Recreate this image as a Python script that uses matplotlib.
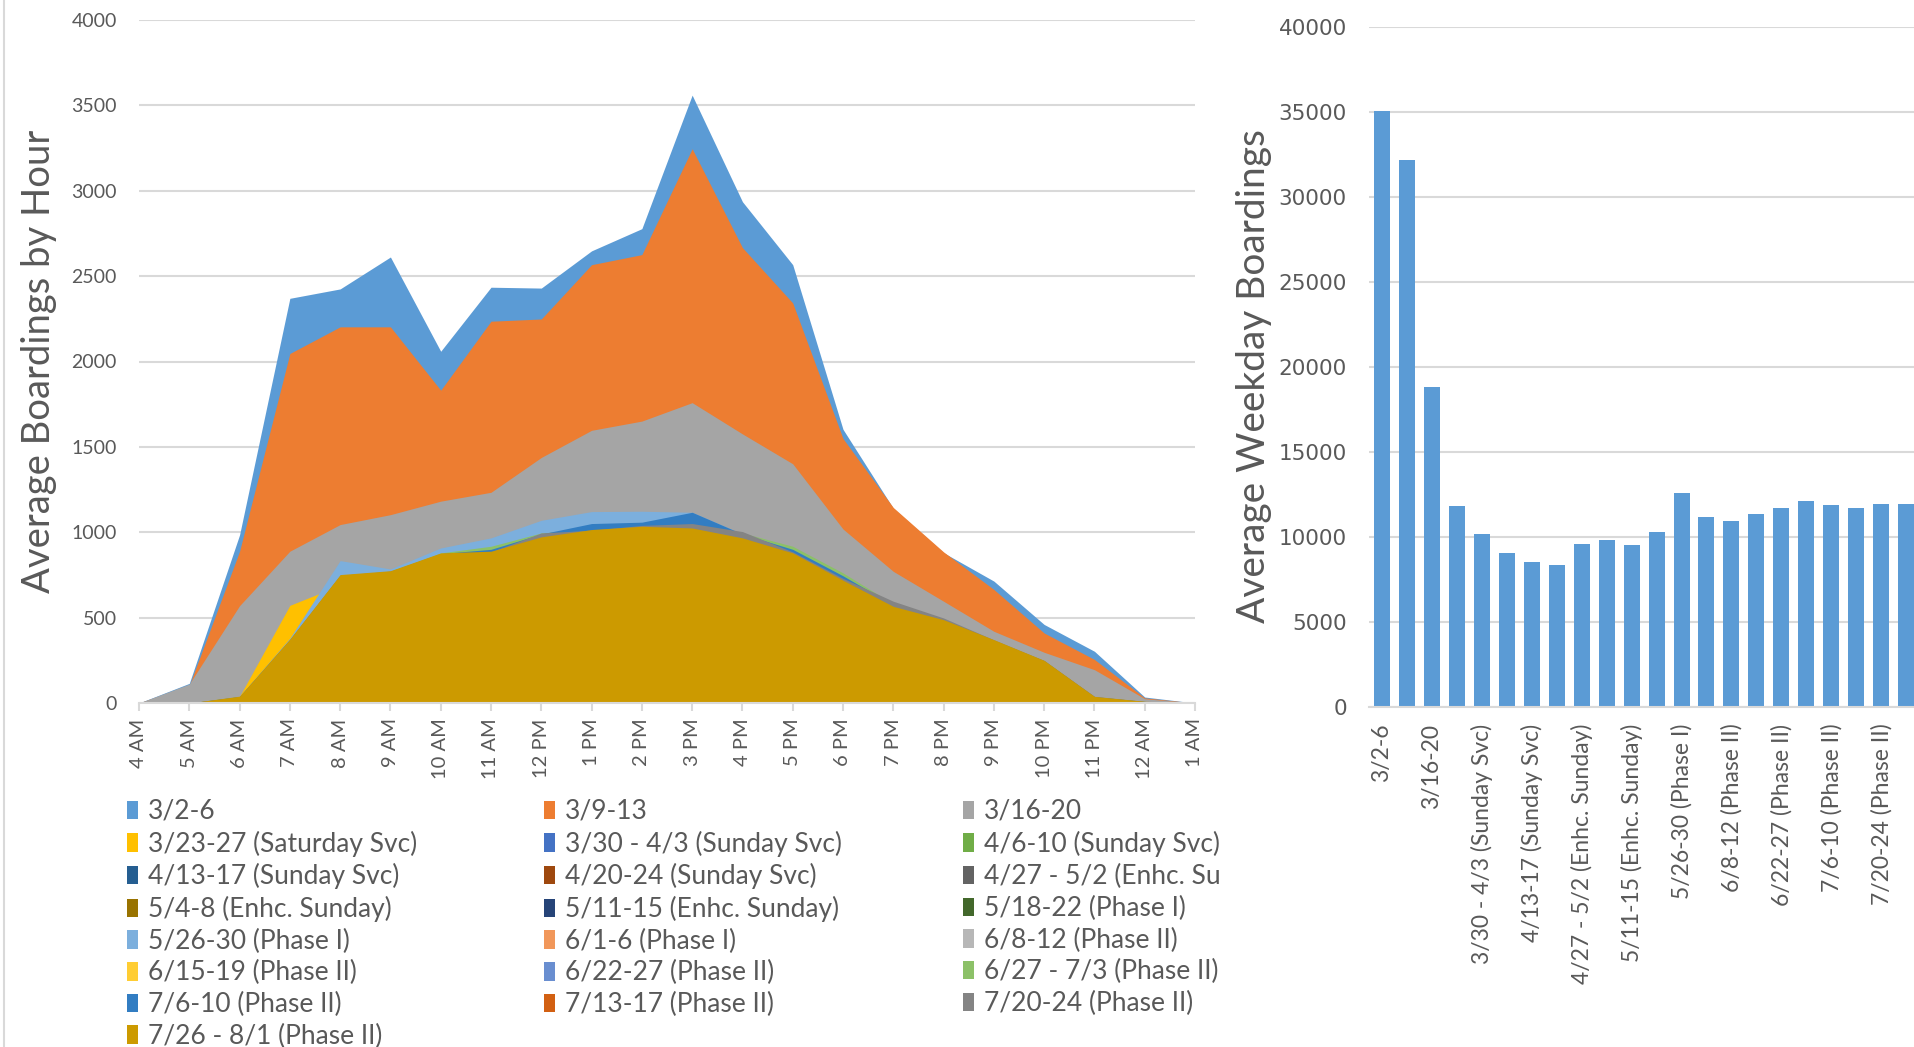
import matplotlib
matplotlib.use("Agg")
import matplotlib.pyplot as plt
from matplotlib.patches import Rectangle
from matplotlib.lines import Line2D

# 時間帯
hours = ["4 AM", "5 AM", "6 AM", "7 AM", "8 AM", "9 AM", "10 AM", "11 AM", "12 PM", "1 PM", "2 PM",
         "3 PM", "4 PM", "5 PM", "6 PM", "7 PM", "8 PM", "9 PM", "10 PM", "11 PM", "12 AM", "1 AM"]

weeks = ["3/2-6", "3/9-13", "3/16-20", "3/23-27 (Saturday Svc)", "3/30 - 4/3 (Sunday Svc)",
         "4/6-10 (Sunday Svc)", "4/13-17 (Sunday Svc)", "4/20-24 (Sunday Svc)", "4/27 - 5/2 (Enhc. Sunday)",
         "5/4-8 (Enhc. Sunday)", "5/11-15 (Enhc. Sunday)", "5/18-22 (Phase I)", "5/26-30 (Phase I)",
         "6/1-6 (Phase I)", "6/8-12 (Phase II)", "6/15-19 (Phase II)", "6/22-27 (Phase II)",
         "6/27 - 7/3 (Phase II)", "7/6-10 (Phase II)", "7/13-17 (Phase II)", "7/20-24 (Phase II)",
         "7/26 - 8/1 (Phase II)"]

colors = ["#5B9BD5", "#ED7D31", "#A5A5A5", "#FFC000", "#4472C4", "#70AD47", "#255E91", "#9E480E",
          "#636363", "#997300", "#264478", "#43682B", "#7CAFDD", "#F1975A", "#B7B7B7", "#FFCD33",
          "#698ED0", "#8CC168", "#327DC2", "#D26012", "#848484", "#CC9A00"]

# 時間別平均乗車数（週ごと）
w_0302 = [0, 115, 985, 2370, 2425, 2612, 2060, 2435, 2430, 2648, 2778, 3560, 2936, 2567, 1603, 1140, 880, 714, 460, 303, 35, 0]
w_0309 = [0, 102, 889, 2047, 2203, 2203, 1832, 2236, 2249, 2567, 2626, 3246, 2667, 2343, 1549, 1145, 885, 665, 410, 255, 30, 0]
w_0316 = [0, 111, 570, 889, 1045, 1103, 1182, 1234, 1438, 1597, 1651, 1759, 1576, 1401, 1019, 771, 596, 420, 297, 195, 25, 0]
w_0323 = [0, 0, 39, 572, 690, 765, 850, 880, 960, 1000, 1020, 1010, 955, 865, 705, 555, 475, 360, 240, 35, 8, 0]
w_0330 = [0, 0, 20, 285, 600, 660, 760, 775, 855, 890, 910, 900, 855, 780, 630, 490, 405, 290, 180, 25, 5, 0]
w_0406 = [0, 0, 15, 250, 540, 590, 680, 695, 760, 790, 810, 800, 760, 695, 560, 435, 360, 260, 160, 22, 5, 0]
w_0413 = [0, 0, 14, 235, 510, 555, 640, 655, 720, 745, 765, 755, 718, 655, 530, 410, 340, 245, 150, 20, 4, 0]
w_0420 = [0, 0, 14, 230, 500, 545, 625, 640, 705, 730, 748, 738, 700, 640, 518, 400, 332, 240, 146, 20, 4, 0]
w_0427 = [0, 0, 18, 265, 575, 630, 725, 740, 815, 850, 870, 860, 815, 745, 600, 465, 385, 280, 175, 25, 5, 0]
w_0504 = [0, 0, 20, 272, 585, 640, 738, 752, 828, 865, 885, 875, 828, 758, 612, 475, 392, 285, 178, 25, 5, 0]
w_0511 = [0, 0, 20, 265, 575, 625, 725, 740, 815, 850, 870, 860, 815, 745, 605, 465, 385, 280, 175, 25, 5, 0]
w_0518 = [0, 0, 25, 290, 620, 675, 780, 795, 875, 910, 930, 920, 875, 800, 650, 505, 420, 305, 195, 28, 6, 0]
w_0526 = [0, 0, 39, 380, 834, 785, 908, 967, 1070, 1121, 1123, 1117, 990, 880, 715, 560, 485, 365, 245, 37, 9, 0]
w_0601 = [0, 0, 30, 350, 700, 740, 840, 860, 940, 980, 1000, 990, 940, 850, 700, 550, 470, 355, 240, 35, 8, 0]
w_0608 = [0, 0, 28, 340, 690, 725, 820, 840, 920, 955, 975, 965, 915, 830, 680, 535, 455, 345, 230, 32, 7, 0]
w_0615 = [0, 0, 32, 355, 715, 750, 850, 870, 955, 995, 1015, 1005, 950, 862, 710, 555, 475, 362, 245, 36, 9, 0]
w_0622 = [0, 0, 36, 365, 740, 765, 870, 882, 965, 1008, 1030, 1018, 962, 875, 715, 562, 484, 368, 248, 38, 9, 0]
w_0627 = [0, 0, 38, 370, 745, 770, 879, 918, 996, 1020, 1040, 1030, 996, 918, 762, 580, 490, 368, 245, 35, 8, 0]
w_0706 = [0, 0, 38, 372, 748, 772, 875, 900, 990, 1051, 1059, 1117, 990, 900, 745, 575, 485, 365, 248, 37, 9, 0]
w_0713 = [0, 0, 35, 360, 735, 765, 865, 880, 965, 1005, 1025, 1015, 960, 870, 725, 565, 480, 360, 240, 35, 8, 0]
w_0720 = [0, 0, 38, 370, 748, 770, 875, 885, 996, 1012, 1040, 1051, 1004, 885, 730, 596, 498, 370, 248, 38, 9, 0]
w_0726 = [0, 0, 40, 375, 752, 775, 879, 889, 973, 1016, 1035, 1025, 967, 879, 719, 566, 488, 371, 250, 39, 10, 0]

hourly = [w_0302, w_0309, w_0316, w_0323, w_0330, w_0406, w_0413, w_0420, w_0427, w_0504, w_0511,
          w_0518, w_0526, w_0601, w_0608, w_0615, w_0622, w_0627, w_0706, w_0713, w_0720, w_0726]

# 平日平均乗車数（週ごと）
weekday_total = [35050, 32150, 18850, 11850, 10150, 9050, 8550, 8350, 9600, 9800, 9550,
                 10300, 12600, 11150, 10950, 11350, 11700, 12100, 11900, 11700, 11950, 11950]

TXT = "#595959"
GRID = "#D9D9D9"

fig = plt.figure(figsize=(19.14, 10.47), dpi=100)
W, H = 1914, 1047

# 左: 時間別（重ね面グラフ）
ax = fig.add_axes([139 / W, 1 - 703 / H, (1195 - 139) / W, (703 - 20) / H])
x = list(range(len(hours)))
for vals, name, c in zip(hourly, weeks, colors):
    ax.fill_between(x, 0, vals, color=c, lw=0, label=name)
ax.set_xlim(0, len(hours) - 1)
ax.set_ylim(0, 4000)
ax.set_yticks(range(0, 4001, 500))
ax.yaxis.grid(True, color=GRID, lw=1.5)
ax.set_axisbelow(True)
for s in ["top", "right", "left"]:
    ax.spines[s].set_visible(False)
ax.spines["bottom"].set_color(GRID)
ax.spines["bottom"].set_linewidth(1.5)
ax.set_xticks(x)
ax.set_xticklabels(hours, rotation=90, fontsize=14.5, color=TXT, family="Lato")
ax.tick_params(axis="x", length=6, color=GRID, width=1.5, pad=5)
ax.tick_params(axis="y", length=0, pad=16, labelsize=14, labelcolor=TXT)
for t in ax.get_yticklabels():
    t.set_family("Lato")
ax.set_ylabel("Average Boardings by Hour", fontsize=27.5, color=TXT, family="Lato")
ax.yaxis.set_label_coords(-(139 - 57) / (1195 - 139), 0.5)

# 凡例（3列、行方向に並べる）
handles, labels = ax.get_legend_handles_labels()
col_x = [127, 544, 963]
for c in range(3):
    fig.legend(handles[c::3], labels[c::3], loc="upper left",
               bbox_to_anchor=(col_x[c] / W, 1 - 799 / H), frameon=False,
               prop={"family": "Lato", "size": 19}, labelcolor=TXT,
               handlelength=0.4, handleheight=0.7, handletextpad=0.4,
               labelspacing=0.25, borderpad=0, borderaxespad=0)

# 右グラフの領域で凡例を切る
cover = Rectangle((1220 / W, 0), (1369 - 1220) / W, 1, transform=fig.transFigure,
                  facecolor="white", edgecolor="none", zorder=6)
fig.patches.append(cover)
fig.lines.append(Line2D([4 / W, 4 / W], [0, 1], transform=fig.transFigure, color=GRID, lw=1.5))

# 右: 平日平均乗車数（棒グラフ）
ax2 = fig.add_axes([1369 / W, 1 - 707 / H, 550 / W, (707 - 27) / H])
ax2.set_zorder(7)
xb = list(range(len(weeks)))
ax2.bar(xb, weekday_total, width=0.64, color="#5B9BD5")
ax2.set_xlim(-0.5, len(weeks) - 0.5)
ax2.set_ylim(0, 40000)
ax2.set_yticks(range(0, 40001, 5000))
ax2.yaxis.grid(True, color=GRID, lw=1.5)
ax2.set_axisbelow(True)
for s in ["top", "right", "left"]:
    ax2.spines[s].set_visible(False)
ax2.spines["bottom"].set_color(GRID)
ax2.spines["bottom"].set_linewidth(1.5)
ax2.set_xticks(xb[::2])
ax2.set_xticklabels(weeks[::2], rotation=90, fontsize=16.5, color=TXT, family="Lato")
ax2.tick_params(axis="x", length=0, pad=12)
ax2.tick_params(axis="y", length=0, pad=16, labelsize=15.5, labelcolor=TXT)
ax2.set_ylabel("Average Weekday Boardings", fontsize=28, color=TXT, family="Lato")
ax2.yaxis.set_label_coords(-(1369 - 1272) / 550, 0.487)

fig.savefig("out.png", dpi=100)
